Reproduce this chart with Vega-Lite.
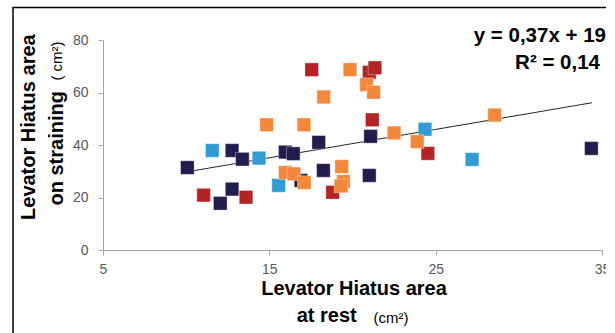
{
  "$schema": "https://vega.github.io/schema/vega-lite/v6.json",
  "width": 499,
  "height": 210,
  "autosize": {"type": "none"},
  "padding": {"left": 103, "top": 40, "right": 4, "bottom": 83},
  "background": "white",
  "config": {"view": {"stroke": null}, "font": "Liberation Sans"},
  "layer": [
    {
      "data": {"values": [{}]},
      "mark": {"type": "rect", "fill": null, "stroke": "#000000", "strokeWidth": 1.5, "clip": false},
      "encoding": {
        "x": {"datum": -0.41, "type": "quantitative"},
        "x2": {"datum": 40},
        "y": {"datum": 92.4, "type": "quantitative"},
        "y2": {"datum": -40}
      }
    },
    {
      "data": {"values": [{"rest": 10.07, "strain": 29.8}, {"rest": 34.4, "strain": 56.1}]},
      "mark": {"type": "line", "color": "#262626", "strokeWidth": 1},
      "encoding": {
        "x": {"field": "rest", "type": "quantitative"},
        "y": {"field": "strain", "type": "quantitative"}
      }
    },
    {
      "data": {"values": [
        {"g": "A", "rest": 21.09, "strain": 43.3},
        {"g": "A", "rest": 17.97, "strain": 41.0},
        {"g": "A", "rest": 12.76, "strain": 37.9},
        {"g": "A", "rest": 13.38, "strain": 34.6},
        {"g": "A", "rest": 15.96, "strain": 37.3},
        {"g": "A", "rest": 16.44, "strain": 36.7},
        {"g": "A", "rest": 10.07, "strain": 31.4},
        {"g": "A", "rest": 16.90, "strain": 26.5},
        {"g": "A", "rest": 18.25, "strain": 30.3},
        {"g": "A", "rest": 21.01, "strain": 28.4},
        {"g": "A", "rest": 12.76, "strain": 23.2},
        {"g": "A", "rest": 12.05, "strain": 17.8},
        {"g": "A", "rest": 34.36, "strain": 38.7},
        {"g": "B", "rest": 11.57, "strain": 37.9},
        {"g": "B", "rest": 14.38, "strain": 35.0},
        {"g": "B", "rest": 15.56, "strain": 24.6},
        {"g": "B", "rest": 27.19, "strain": 34.5},
        {"g": "B", "rest": 24.36, "strain": 46.0},
        {"g": "C", "rest": 17.55, "strain": 68.7},
        {"g": "C", "rest": 21.01, "strain": 67.7},
        {"g": "C", "rest": 21.35, "strain": 69.4},
        {"g": "C", "rest": 21.19, "strain": 49.6},
        {"g": "C", "rest": 18.81, "strain": 22.0},
        {"g": "C", "rest": 11.05, "strain": 20.9},
        {"g": "C", "rest": 13.60, "strain": 20.1},
        {"g": "C", "rest": 24.53, "strain": 36.8},
        {"g": "D", "rest": 19.85, "strain": 68.7},
        {"g": "D", "rest": 20.85, "strain": 63.0},
        {"g": "D", "rest": 21.27, "strain": 60.1},
        {"g": "D", "rest": 18.27, "strain": 58.3},
        {"g": "D", "rest": 14.84, "strain": 47.7},
        {"g": "D", "rest": 17.08, "strain": 47.7},
        {"g": "D", "rest": 22.50, "strain": 44.6},
        {"g": "D", "rest": 15.96, "strain": 29.5},
        {"g": "D", "rest": 16.48, "strain": 29.0},
        {"g": "D", "rest": 17.10, "strain": 25.7},
        {"g": "D", "rest": 19.35, "strain": 31.8},
        {"g": "D", "rest": 19.45, "strain": 26.1},
        {"g": "D", "rest": 19.31, "strain": 24.4},
        {"g": "D", "rest": 28.55, "strain": 51.4},
        {"g": "D", "rest": 23.89, "strain": 41.3}
      ]},
      "mark": {"type": "square", "size": 185, "opacity": 1, "filled": true, "stroke": "#ffffff", "strokeWidth": 0.6, "strokeOpacity": 0.6},
      "encoding": {
        "x": {
          "field": "rest", "type": "quantitative",
          "scale": {"domain": [5, 35], "nice": false, "zero": false},
          "axis": {
            "values": [5, 15, 25, 35], "title": null, "grid": false,
            "tickSize": 5, "labelPadding": 7, "labelFontSize": 14, "labelColor": "#595959",
            "labelFlush": false, "labelOverlap": false,
            "domainColor": "#a6a6a6", "tickColor": "#a6a6a6", "labelFont": "Liberation Sans"
          }
        },
        "y": {
          "field": "strain", "type": "quantitative",
          "scale": {"domain": [0, 80], "nice": false},
          "axis": {
            "values": [0, 20, 40, 60, 80], "title": null, "grid": false,
            "tickSize": 5, "labelPadding": 10, "labelFontSize": 14, "labelColor": "#595959",
            "labelFlush": false, "labelOverlap": false,
            "domainColor": "#a6a6a6", "tickColor": "#a6a6a6", "labelFont": "Liberation Sans"
          }
        },
        "color": {
          "field": "g", "type": "nominal", "legend": null,
          "scale": {"domain": ["A", "B", "C", "D"], "range": ["#211d4e", "#2f9cd5", "#b52325", "#f4883a"]}
        }
      }
    },
    {
      "data": {"values": [{}]},
      "mark": {"type": "text", "text": "Levator Hiatus area", "angle": 270, "fontSize": 20, "fontWeight": "bold", "align": "center", "baseline": "middle", "color": "#000000"},
      "encoding": {"x": {"datum": 0.55, "type": "quantitative"}, "y": {"datum": 46.8, "type": "quantitative"}}
    },
    {
      "data": {"values": [{}]},
      "mark": {"type": "text", "text": "on straining", "angle": 270, "fontSize": 20, "fontWeight": "bold", "align": "center", "baseline": "middle", "color": "#000000"},
      "encoding": {"x": {"datum": 2.23, "type": "quantitative"}, "y": {"datum": 38.75, "type": "quantitative"}}
    },
    {
      "data": {"values": [{}]},
      "mark": {"type": "text", "text": "( cm²)", "angle": 270, "fontSize": 15, "align": "center", "baseline": "middle", "color": "#000000"},
      "encoding": {"x": {"datum": 2.23, "type": "quantitative"}, "y": {"datum": 72.0, "type": "quantitative"}}
    },
    {
      "data": {"values": [{}]},
      "mark": {"type": "text", "text": "Levator Hiatus area", "fontSize": 20, "fontWeight": "bold", "align": "center", "baseline": "middle", "color": "#000000"},
      "encoding": {"x": {"datum": 20.09, "type": "quantitative"}, "y": {"datum": -14.9, "type": "quantitative"}}
    },
    {
      "data": {"values": [{}]},
      "mark": {"type": "text", "text": "at rest", "fontSize": 20, "fontWeight": "bold", "align": "center", "baseline": "middle", "color": "#000000"},
      "encoding": {"x": {"datum": 18.45, "type": "quantitative"}, "y": {"datum": -25.0, "type": "quantitative"}}
    },
    {
      "data": {"values": [{}]},
      "mark": {"type": "text", "text": "(cm²)", "fontSize": 15, "align": "center", "baseline": "middle", "color": "#000000"},
      "encoding": {"x": {"datum": 22.31, "type": "quantitative"}, "y": {"datum": -26.0, "type": "quantitative"}}
    },
    {
      "data": {"values": [{}]},
      "mark": {"type": "text", "text": "y = 0,37x + 19", "fontSize": 20.5, "fontWeight": "bold", "align": "right", "baseline": "middle", "color": "#000000"},
      "encoding": {"x": {"datum": 35.24, "type": "quantitative"}, "y": {"datum": 81.7, "type": "quantitative"}}
    },
    {
      "data": {"values": [{}]},
      "mark": {"type": "text", "text": "R² = 0,14", "fontSize": 20.5, "fontWeight": "bold", "align": "right", "baseline": "middle", "color": "#000000"},
      "encoding": {"x": {"datum": 34.88, "type": "quantitative"}, "y": {"datum": 71.4, "type": "quantitative"}}
    }
  ]
}
